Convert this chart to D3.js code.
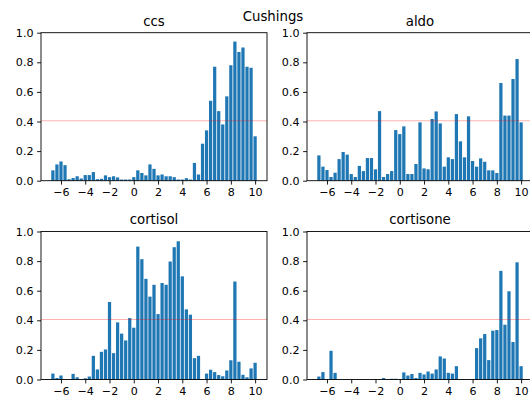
<!DOCTYPE html>
<html>
<head>
<meta charset="utf-8">
<script src="https://cdn.jsdelivr.net/npm/d3@7"></script>
<style>
  html, body { margin: 0; padding: 0; background: #fff; }
  svg { display: block; font-family: "DejaVu Sans", sans-serif; }
</style>
</head>
<body>
<svg id="chart" width="530" height="398"></svg>
<script>
// ---- data ----
const binCenters = [-6.667,-6.333,-6,-5.667,-5.333,-5,-4.667,-4.333,-4,-3.667,-3.333,-3,-2.667,-2.333,-2,-1.667,-1.333,-1,-0.667,-0.333,0,0.333,0.667,1,1.333,1.667,2,2.333,2.667,3,3.333,3.667,4,4.333,4.667,5,5.333,5.667,6,6.333,6.667,7,7.333,7.667,8,8.333,8.667,9,9.333,9.667,10];

const ccs = [0.07,0.11,0.13,0.105,0.01,0.018,0.03,0.015,0.038,0.038,0.058,0.01,0.013,0.036,0.024,0.03,0.022,0.008,0.008,0.008,0.024,0.07,0.052,0.036,0.11,0.08,0.036,0.042,0.03,0.03,0.024,0.008,0.008,0.017,0.008,0.12,0.042,0.25,0.34,0.54,0.77,0.47,0.38,0.57,0.78,0.94,0.87,0.90,0.77,0.763,0.30];

const aldo = [0.171,0.095,0.072,0.025,0.054,0.146,0.194,0.176,0.045,0.025,0.10,0.065,0.153,0.153,0.077,0.47,0.025,0.045,0.065,0.342,0.315,0.367,0.045,0.045,0.113,0.394,0.083,0.077,0.417,0.468,0.387,0.095,0.158,0.146,0.45,0.266,0.158,0.435,0.133,0.095,0.151,0.128,0.07,0.07,0.052,0.66,0.44,0.44,0.687,0.822,0.394];

const cortisol = [0.04,0.01,0.027,0,0,0.038,0.015,0,0.008,0.02,0.16,0.068,0.187,0.203,0.524,0.178,0.386,0.31,0.264,0.415,0.35,0.898,0.813,0.68,0.56,0.64,0.442,0.652,0.64,0.797,0.894,0.934,0.697,0.474,0.438,0.144,0.16,0,0.04,0.066,0.05,0.03,0.022,0.061,0.13,0.662,0.12,0.032,0.015,0.075,0.113];

const cortisone = [0.02,0.05,0,0.194,0.045,0,0,0,0,0,0,0,0,0,0,0,0.01,0,0.005,0.005,0,0.048,0.027,0.037,0.01,0.045,0.034,0.054,0.04,0.068,0.156,0.142,0.045,0.04,0.09,0,0,0,0,0.212,0.278,0.307,0.131,0.33,0.334,0.734,0.37,0.596,0.253,0.792,0.09];

const panelTitles = ["ccs", "aldo", "cortisol", "cortisone"];
const panelSeries = [ccs, aldo, cortisol, cortisone];
const xTickValues = [-6, -4, -2, 0, 2, 4, 6, 8, 10];
const yTickValues = [0, 0.2, 0.4, 0.6, 0.8, 1.0];
const threshold = 0.405;
const suptitle = "Cushings";

// ---- layout ----
const svg = d3.select("#chart");
const W = 226, H = 148;
const origins = [[41, 32.7], [307, 32.7], [41, 231.5], [307, 231.5]];
const barStep = 1 / 3;
const barWidth = 0.8 * barStep;
const fontTick = 11.1, fontTitle = 13.3;
const barColor = "#1f77b4";

const lo = d3.min(binCenters) - barWidth / 2;
const hi = d3.max(binCenters) + barWidth / 2;
const pad = 0.05 * (hi - lo);

svg.append("text")
  .attr("x", 273).attr("y", 20.5)
  .attr("text-anchor", "middle")
  .attr("font-size", fontTitle)
  .attr("fill", "#000")
  .text(suptitle);

panelSeries.forEach((series, i) => {
  const [ox, oy] = origins[i];
  const g = svg.append("g").attr("transform", `translate(${ox},${oy})`);
  const x = d3.scaleLinear().domain([lo - pad, hi + pad]).range([0, W]);
  const y = d3.scaleLinear().domain([0, 1]).range([H, 0]);

  // bars
  g.selectAll("rect.bar")
    .data(binCenters.map((c, j) => ({ c, v: series[j] })))
    .join("rect")
    .attr("class", "bar")
    .attr("x", d => x(d.c - barWidth / 2))
    .attr("width", d => x(d.c + barWidth / 2) - x(d.c - barWidth / 2))
    .attr("y", d => y(d.v))
    .attr("height", d => y(0) - y(d.v))
    .attr("fill", barColor);

  // threshold line
  g.append("line")
    .attr("x1", 0).attr("x2", W)
    .attr("y1", y(threshold)).attr("y2", y(threshold))
    .attr("stroke", "rgba(255,0,0,0.3)")
    .attr("stroke-width", 1.1);

  // axes
  const xAxis = d3.axisBottom(x).tickValues(xTickValues)
    .tickFormat(d3.format("d")).tickSize(3.9).tickPadding(3.6);
  const yAxis = d3.axisLeft(y).tickValues(yTickValues)
    .tickFormat(d3.format(".1f")).tickSize(3.9).tickPadding(3.6);

  const gx = g.append("g").attr("transform", `translate(0,${H})`).call(xAxis);
  const gy = g.append("g").call(yAxis);
  [gx, gy].forEach(a => {
    a.select(".domain").remove();
    a.selectAll(".tick line").attr("stroke", "#000").attr("stroke-width", 0.9);
    a.selectAll(".tick text").attr("fill", "#000")
      .attr("font-size", fontTick).attr("font-family", "DejaVu Sans, sans-serif");
  });

  // spines
  g.append("rect")
    .attr("x", 0).attr("y", 0).attr("width", W).attr("height", H)
    .attr("fill", "none").attr("stroke", "#000").attr("stroke-width", 0.9);

  // title
  g.append("text")
    .attr("x", W / 2).attr("y", -7.2)
    .attr("text-anchor", "middle")
    .attr("font-size", fontTitle)
    .attr("fill", "#000")
    .text(panelTitles[i]);
});
</script>
</body>
</html>
